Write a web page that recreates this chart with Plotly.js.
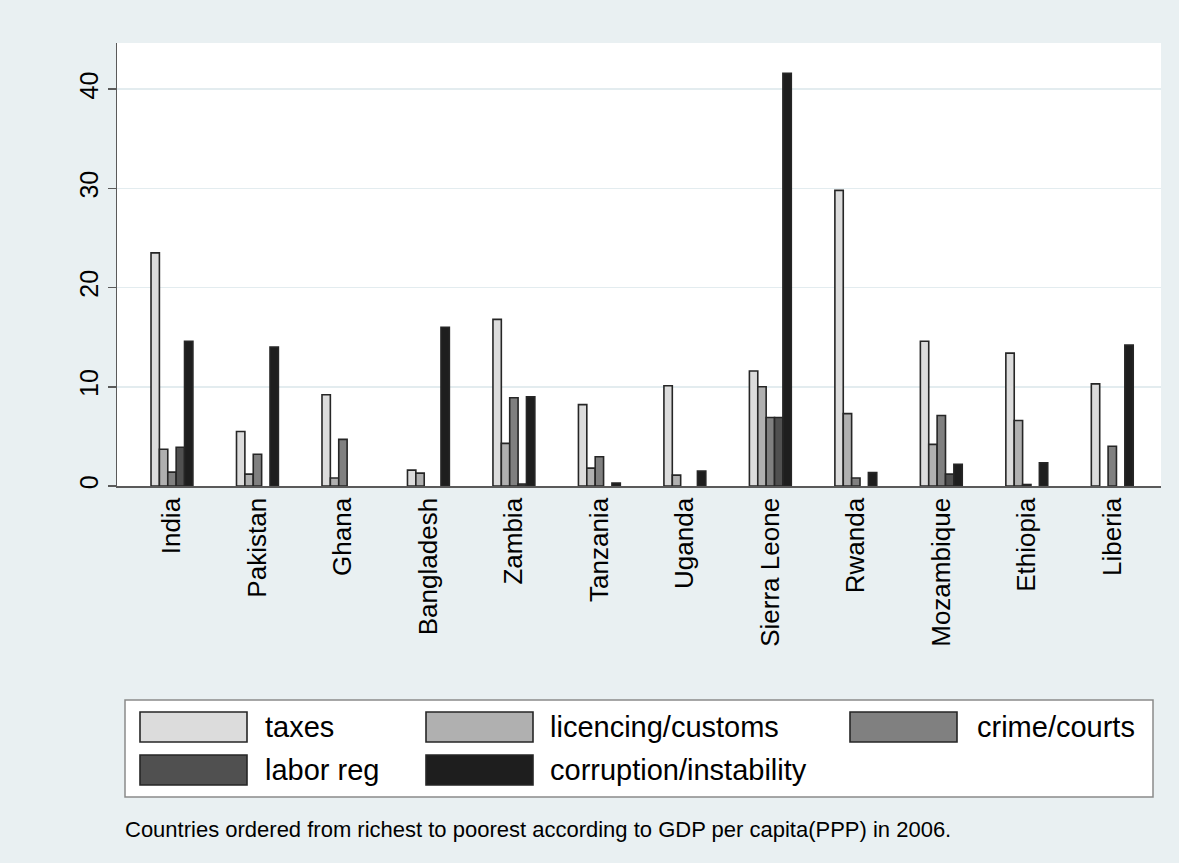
<!DOCTYPE html>
<html>
<head>
<meta charset="utf-8">
<script src="https://cdn.plot.ly/plotly-3.0.1.min.js"></script>
<style>html,body{margin:0;padding:0;background:#e9f0f2;}#chart{width:1179px;height:863px;}</style>
</head>
<body>
<div id="chart"></div>
<script>
const countries = ['India','Pakistan','Ghana','Bangladesh','Zambia','Tanzania','Uganda','Sierra Leone','Rwanda','Mozambique','Ethiopia','Liberia'];
// null = no response recorded (no bar drawn)
const taxes      = [23.5, 5.5, 9.2, 1.6, 16.8, 8.2, 10.1, 11.6, 29.8, 14.6, 13.4, 10.3];
const licencing  = [3.7, 1.2, 0.8, 1.3, 4.3, 1.8, 1.1, 10.0, 7.3, 4.2, 6.6, null];
const crime      = [1.4, 3.2, 4.7, null, 8.9, 2.95, null, 6.9, 0.8, 7.1, 0.15, 4.0];
const laborReg   = [3.9, null, null, null, 0.2, null, null, 6.9, null, 1.2, null, null];
const corruption = [14.6, 14.0, null, 16.0, 9.0, 0.3, 1.5, 41.6, 1.35, 2.2, 2.35, 14.2];
const seriesNames = ['taxes','licencing/customs','crime/courts','labor reg','corruption/instability'];
const seriesColors = ['#dcdcdc','#b0b0b0','#808080','#505050','#1e1e1e'];
const yTicks = [0, 10, 20, 30, 40];
const note = 'Countries ordered from richest to poorest according to GDP per capita(PPP) in 2006.';

const seriesValues = [taxes, licencing, crime, laborReg, corruption];
const FONT = 'Liberation Sans, Arial, sans-serif';

const traces = seriesValues.map((vals, i) => ({
  type: 'bar',
  x: countries,
  y: vals,
  name: seriesNames[i],
  marker: {color: seriesColors[i], line: {color: '#262626', width: 1.6}},
  showlegend: false,
  hoverinfo: 'x+y+name'
}));

// plot area in pixels
const L = 117, R = 1161, T = 43, B = 486, W = 1179, H = 863;
const px = x => (x - L) / (R - L);
const py = y => (B - y) / (B - T);

const shapes = [];
const annotations = [];
// legend box
shapes.push({type:'rect', xref:'paper', yref:'paper', x0:px(125), x1:px(1153), y0:py(797), y1:py(700),
  fillcolor:'#ffffff', line:{color:'#8a8a8a', width:1.5}, layer:'below'});
const swLeft = [140, 426, 850];
const txtLeft = [263, 548, 975];
const rowC = [727, 770];
seriesNames.forEach((nm, i) => {
  const col = i % 3, row = Math.floor(i / 3);
  shapes.push({type:'rect', xref:'paper', yref:'paper',
    x0:px(swLeft[col]), x1:px(swLeft[col] + 107), y0:py(rowC[row] + 15), y1:py(rowC[row] - 15),
    fillcolor: seriesColors[i], line:{color:'#262626', width:1.6}});
  annotations.push({xref:'paper', yref:'paper', x:px(txtLeft[col]), y:py(rowC[row]),
    xanchor:'left', yanchor:'middle', showarrow:false, text:nm,
    font:{family:FONT, size:29, color:'#000'}});
});
annotations.push({xref:'paper', yref:'paper', x:px(123), y:py(829), xanchor:'left', yanchor:'middle',
  showarrow:false, text:note, font:{family:FONT, size:22, color:'#000'}});

const layout = {
  width: W, height: H,
  margin: {l: L, r: W - R, t: T, b: H - B, pad: 0},
  paper_bgcolor: '#e9f0f2',
  plot_bgcolor: '#ffffff',
  barmode: 'group',
  bargap: 0.51,
  bargroupgap: 0,
  showlegend: false,
  font: {family: FONT, color: '#000'},
  xaxis: {
    type: 'category',
    range: [-0.643, 11.57],
    showgrid: false, zeroline: false,
    showline: true, linecolor: '#5a5a5a', linewidth: 1.5,
    ticks: '', tickangle: -90,
    tickfont: {family: FONT, size: 26, color: '#000'},
    automargin: false
  },
  yaxis: {
    range: [0, 44.66],
    tickvals: yTicks,
    ticktext: yTicks.map(String),
    showgrid: true, gridcolor: '#e3ecef', gridwidth: 1.5,
    zeroline: false,
    showline: true, linecolor: '#5a5a5a', linewidth: 1.5,
    ticks: 'outside', ticklen: 8, tickwidth: 1.5, tickcolor: '#5a5a5a',
    tickangle: -90,
    tickfont: {family: FONT, size: 25, color: '#000'},
    automargin: false
  },
  shapes: shapes,
  annotations: annotations
};

Plotly.newPlot('chart', traces, layout, {displayModeBar: false, staticPlot: true});
</script>
</body>
</html>
